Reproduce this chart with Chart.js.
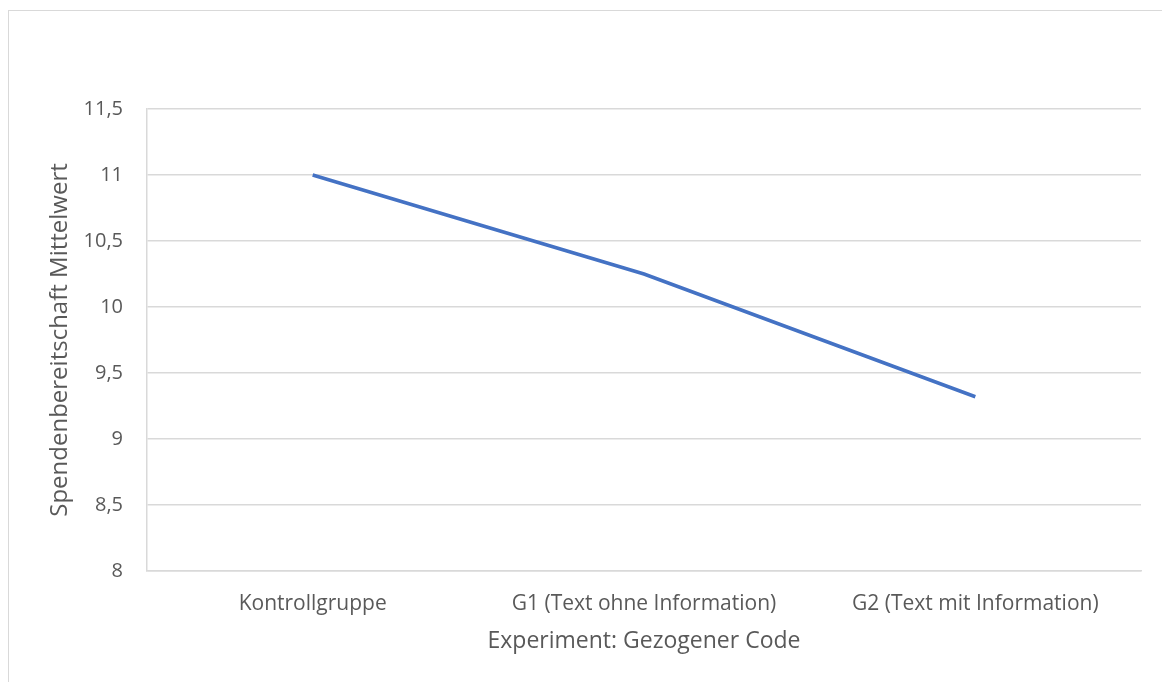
<!DOCTYPE html>
<html>
<head>
<meta charset="utf-8">
<script src="https://cdn.jsdelivr.net/npm/chart.js@4"></script>
<style>
    html, body { margin: 0; padding: 0; background: #ffffff; }
    #wrap { position: relative; width: 1162px; height: 682px; overflow: hidden; }
    #frame { position: absolute; left: 8px; top: 10px; width: 1200px; height: 700px; border: 1px solid #d9d9d9; }
    canvas { position: absolute; left: 0; top: 0; }
</style>
</head>
<body>
<div id="wrap">
    <div id="frame"></div>
    <canvas id="chart" width="1162" height="682"></canvas>
</div>
<script>
const categories = ["Kontrollgruppe", "G1 (Text ohne Information)", "G2 (Text mit Information)"];
const meanValues = [11.0, 10.25, 9.32];
const yTicks = [8, 8.5, 9, 9.5, 10, 10.5, 11, 11.5];

const textColor = "#595959";
const gridColor = "#d9d9d9";
const fontFamily = "'Open Sans', Lato, sans-serif";

const ctx = document.getElementById("chart").getContext("2d");

const chart = new Chart(ctx, {
    type: "line",
    data: {
        labels: categories,
        datasets: [{
            label: "Mittelwert",
            data: meanValues,
            borderColor: "#4472c4",
            borderWidth: 3.5,
            pointRadius: 0,
            tension: 0,
            fill: false
        }]
    },
    options: {
        responsive: false,
        animation: false,
        layout: { padding: { left: 0, right: 21, top: 109, bottom: 0 } },
        plugins: {
            legend: { display: false },
            tooltip: { enabled: false }
        },
        scales: {
            x: {
                offset: true,
                grid: { display: false, drawTicks: false },
                border: { display: true, color: gridColor, width: 1.5 },
                ticks: { color: textColor, font: { family: fontFamily, size: 21 }, padding: 20, maxRotation: 0 },
                title: {
                    display: true,
                    text: "Experiment: Gezogener Code",
                    color: textColor,
                    font: { family: fontFamily, size: 23 },
                    padding: { top: 0, bottom: 27 }
                },
                afterFit: scale => { scale.height = 111; }
            },
            y: {
                min: 8,
                max: 11.5,
                afterBuildTicks: scale => { scale.ticks = yTicks.map(v => ({ value: v })); },
                grid: { color: gridColor, lineWidth: 1.5, drawTicks: false },
                border: { display: true, color: gridColor, width: 1.5 },
                ticks: {
                    color: textColor,
                    font: { family: fontFamily, size: 20 },
                    padding: 24,
                    callback: v => String(v).replace(".", ",")
                },
                title: {
                    display: true,
                    text: "Spendenbereitschaft Mittelwert",
                    color: textColor,
                    font: { family: fontFamily, size: 24 },
                    padding: { top: 46, bottom: 0 }
                },
                afterFit: scale => { scale.width = 147; }
            }
        }
    }
});
</script>
</body>
</html>
